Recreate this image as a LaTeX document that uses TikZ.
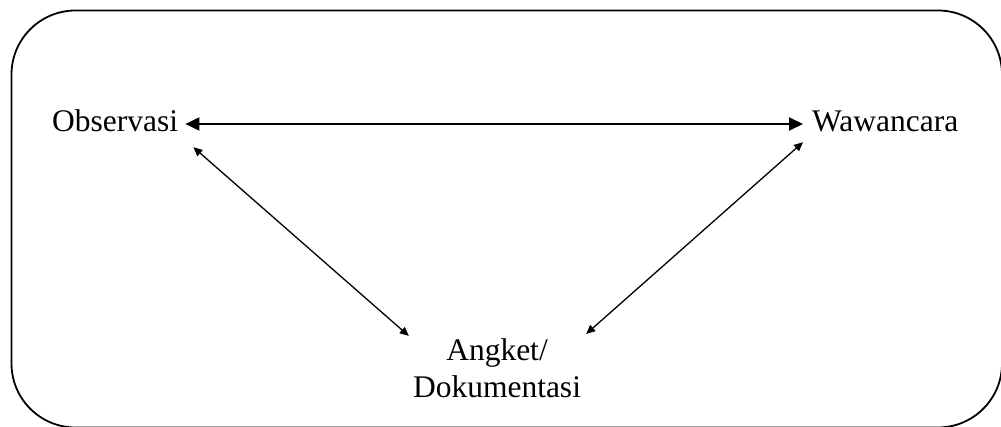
\documentclass[tikz,border=0pt]{standalone}
\usepackage{fontspec}
\setmainfont{Liberation Serif}
\usetikzlibrary{arrows.meta}
\begin{document}
\begin{tikzpicture}[x=1pt,y=-1pt,
  lbl/.style={font=\fontsize{31.5}{37}\selectfont, inner ysep=0pt, text height=21pt, text depth=5pt},
  bigarrow/.style={line width=2pt, {Triangle[length=14pt,width=13pt]}-{Triangle[length=14pt,width=13pt]}},
  thinarrow/.style={line width=1.3pt, {Triangle[length=9pt,width=8pt]}-{Triangle[length=9pt,width=8pt]}}]
\useasboundingbox (0,0) rectangle (1001,427);
\draw[line width=1.8pt, rounded corners=64pt] (11.5,10.5) rectangle (1002,427.5);
\node[lbl, anchor=base west, inner xsep=7pt] (obs) at (45,132) {Observasi};
\node[lbl, anchor=base west, inner xsep=9pt] (waw) at (803,132) {Wawancara};
\node[font=\fontsize{31.5}{37}\selectfont, align=center, inner sep=0pt, anchor=base] (ang) at (497,397) {Angket/\\Dokumentasi};
\draw[bigarrow] (obs.east) -- (waw.west);
\draw[thinarrow] ([xshift=8pt,yshift=-10pt]obs.south east) -- ([xshift=-4pt,yshift=2pt]ang.north west);
\draw[thinarrow] ([yshift=-5pt]waw.south west) -- ([xshift=5pt,yshift=4pt]ang.north east);
\end{tikzpicture}
\end{document}
